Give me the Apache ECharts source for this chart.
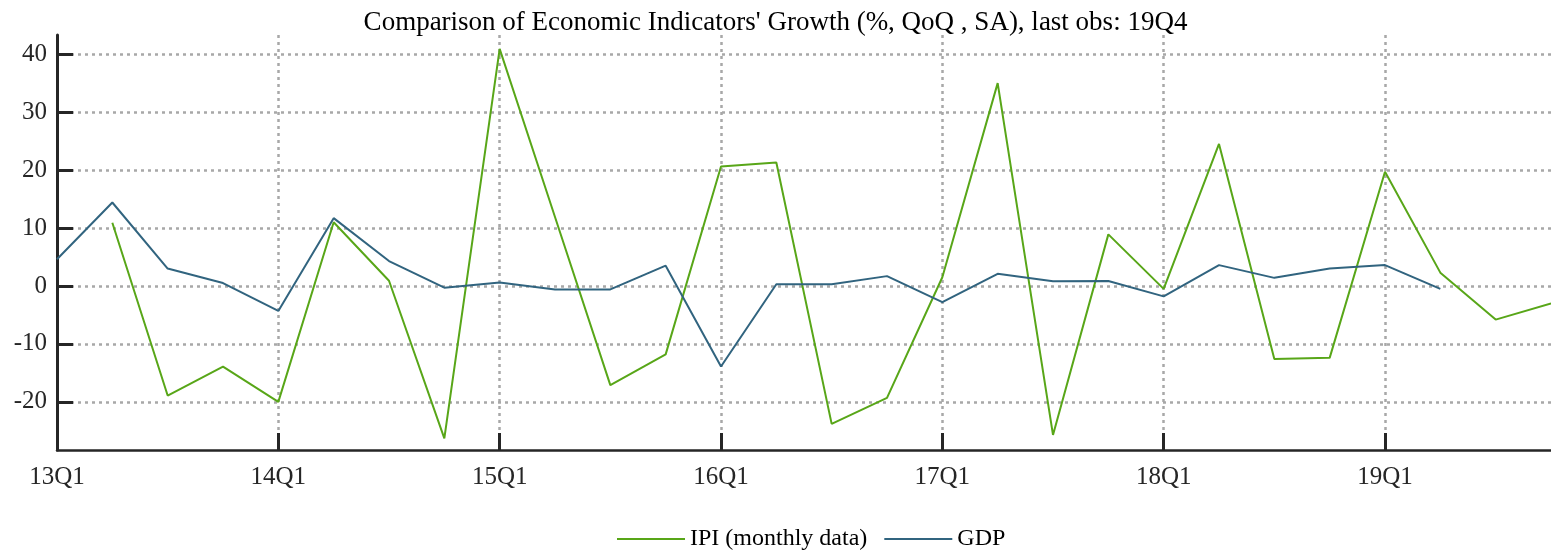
<!DOCTYPE html>
<html>
<head>
<meta charset="utf-8">
<script src="https://cdn.jsdelivr.net/npm/echarts@6/dist/echarts.min.js"></script>
<style>
  html, body { margin: 0; padding: 0; background: #fff; }
  #chart { width: 1551px; height: 551px; }
</style>
</head>
<body>
<div id="chart"></div>
<script>
// quarters shown on the x axis
const quarters = [
  '13Q1', '13Q2', '13Q3', '13Q4', '14Q1', '14Q2', '14Q3', '14Q4',
  '15Q1', '15Q2', '15Q3', '15Q4', '16Q1', '16Q2', '16Q3', '16Q4',
  '17Q1', '17Q2', '17Q3', '17Q4', '18Q1', '18Q2', '18Q3', '18Q4',
  '19Q1', '19Q2', '19Q3', '19Q4'
]

// IPI growth (monthly data aggregated), % QoQ
const ipi = [
  null, 10.9, -18.9, -13.9, -20.0, 11.0, 0.9, -26.3,
  40.9, 11.9, -17.1, -11.8, 20.6, 21.3, -23.8, -19.3,
  1.5, 35.0, -25.7, 8.9, -0.5, 24.5, -12.6, -12.4,
  19.7, 2.3, -5.8, -3.0
]

// GDP growth, % QoQ
const gdp = [
  4.6, 14.4, 3.0, 0.5, -4.3, 11.7, 4.3, -0.3,
  0.6, -0.6, -0.6, 3.5, -13.9, 0.3, 0.3, 1.7,
  -2.8, 2.1, 0.8, 0.85, -1.8, 3.6, 1.4, 3.0,
  3.6, -0.5, null, null
]

const serif = '"Liberation Serif", "DejaVu Serif", serif'
const axisColor = '#262626'
const gridStyle = { color: '#a8a8a8', width: 2.5, type: [3, 4] }

const chart = echarts.init(document.getElementById('chart'))

const option = {
  backgroundColor: '#fff',
  animation: false,
  title: {
    text: "Comparison of Economic Indicators' Growth (%, QoQ , SA), last obs: 19Q4",
    left: 'center',
    top: 4,
    textStyle: { fontFamily: serif, fontSize: 27, fontWeight: 'normal', color: '#000' }
  },
  legend: {
    data: ['IPI (monthly data)', 'GDP'],
    icon: 'rect',
    left: 612,
    top: 522,
    itemWidth: 68,
    itemHeight: 2,
    itemGap: 17,
    textStyle: { fontFamily: serif, fontSize: 24, color: '#000' }
  },
  grid: { left: 57, right: -8, top: 35, bottom: 101, containLabel: false },
  xAxis: {
    type: 'category',
    data: quarters,
    boundaryGap: false,
    axisLine: { onZero: false, lineStyle: { color: axisColor, width: 2.5 } },
    axisTick: { inside: true, interval: 3, length: 17, lineStyle: { color: axisColor, width: 3 } },
    axisLabel: { interval: 3, margin: 15, fontFamily: serif, fontSize: 25, color: axisColor },
    splitLine: { show: true, interval: 3, lineStyle: gridStyle }
  },
  yAxis: {
    type: 'value',
    min: -28.3,
    max: 43.3,
    axisLine: { show: true, lineStyle: { color: axisColor, width: 3 } },
    axisTick: { show: true, inside: true, length: 16, lineStyle: { color: axisColor, width: 3 } },
    axisLabel: {
      margin: 10, fontFamily: serif, fontSize: 25, color: axisColor,
      showMinLabel: false, showMaxLabel: false
    },
    splitLine: { show: true, showMinLine: false, showMaxLine: false, lineStyle: gridStyle }
  },
  series: [
    {
      name: 'IPI (monthly data)',
      type: 'line',
      data: ipi,
      symbol: 'none',
      lineStyle: { color: '#58a618', width: 2 },
      itemStyle: { color: '#58a618' }
    },
    {
      name: 'GDP',
      type: 'line',
      data: gdp,
      symbol: 'none',
      lineStyle: { color: '#31647f', width: 2 },
      itemStyle: { color: '#31647f' }
    }
  ]
}

chart.setOption(option)
</script>
</body>
</html>
